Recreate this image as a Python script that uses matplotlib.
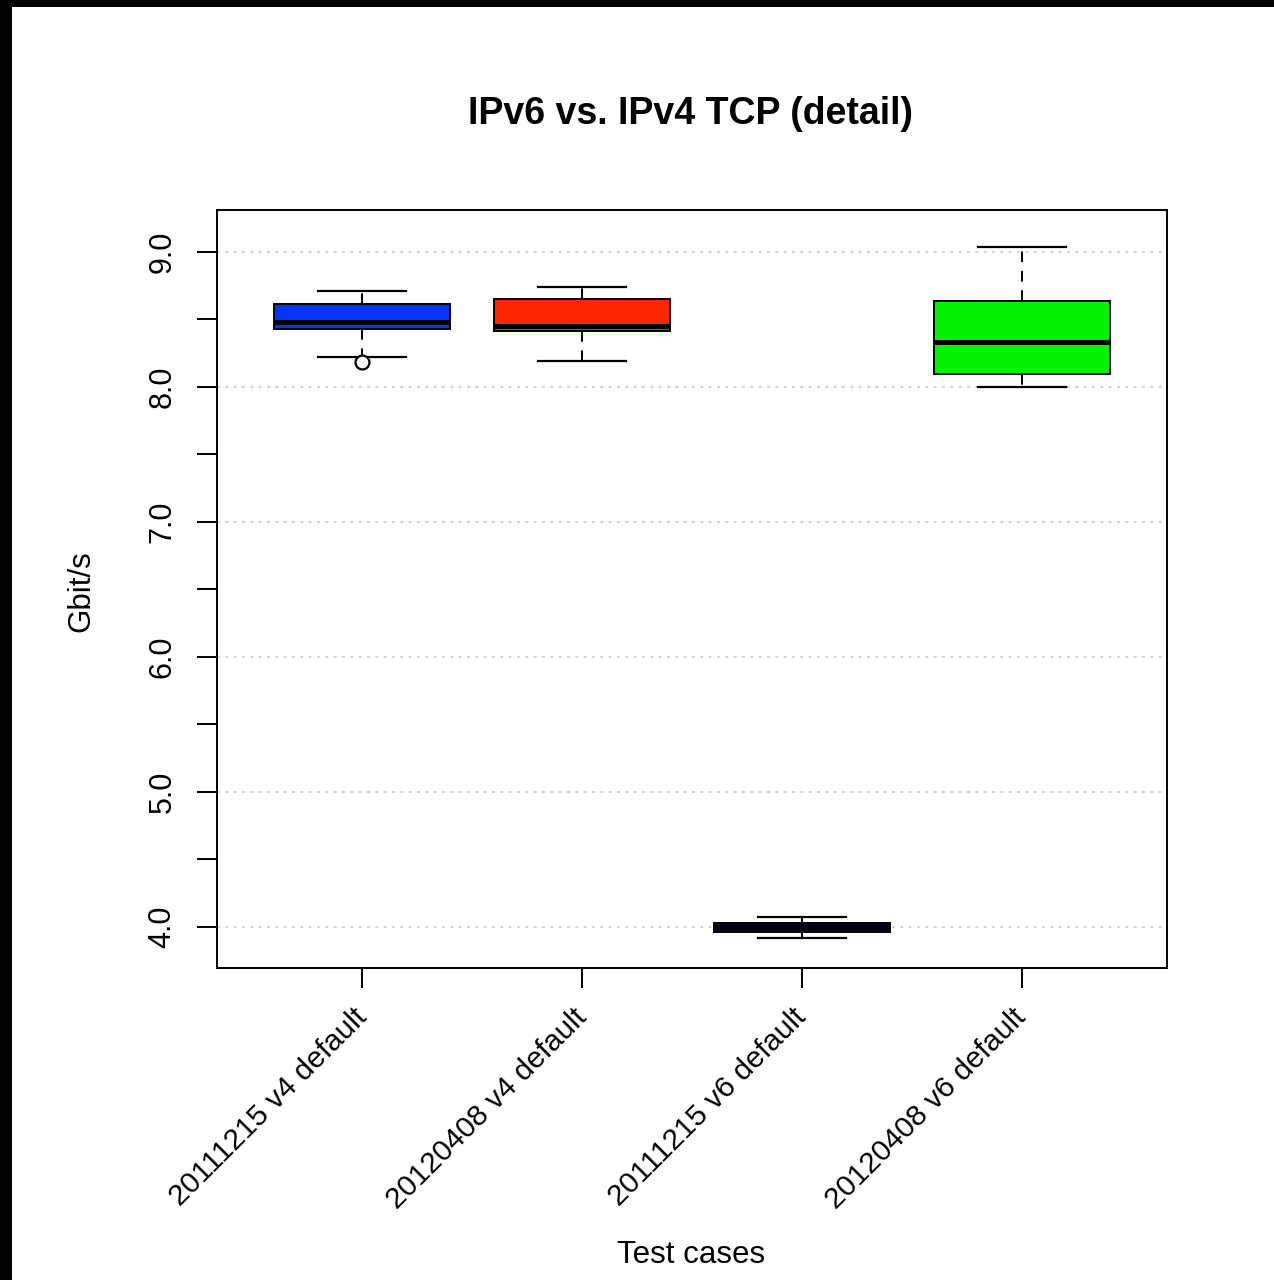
#!/usr/bin/env python3
"""IPv6 vs. IPv4 TCP throughput detail, boxplot per test case."""

import matplotlib

matplotlib.use("Agg")
import matplotlib.pyplot as plt
from matplotlib.patches import Rectangle

CASES = [
    "20111215 v4 default",
    "20120408 v4 default",
    "20111215 v6 default",
    "20120408 v6 default",
]
WHISKER_LO = [8.222, 8.195, 3.916, 8.002]
Q1 = [8.430, 8.415, 3.961, 8.096]
MEDIAN = [8.484, 8.454, 4.000, 8.331]
Q3 = [8.615, 8.650, 4.032, 8.637]
WHISKER_HI = [8.711, 8.743, 4.076, 9.039]
OUTLIERS = [[8.185], [], [], []]

Y_TICKS = [4.0, 5.0, 6.0, 7.0, 8.0, 9.0]
Y_MINOR = [4.5, 5.5, 6.5, 7.5, 8.5]

FILLS = ["#0433ff", "#ff2600", "#000040", "#00f200"]


def main() -> None:
    plt.rcParams["font.family"] = ["Liberation Sans", "DejaVu Sans"]
    fig = plt.figure(figsize=(12.74, 12.8), dpi=100)
    ax = fig.add_axes((217 / 1274, 1 - 968 / 1280, 950 / 1274, 758 / 1280))

    stats = [
        {
            "label": case,
            "whislo": lo,
            "q1": q1,
            "med": med,
            "q3": q3,
            "whishi": hi,
            "fliers": fl,
        }
        for case, lo, q1, med, q3, hi, fl in zip(CASES, WHISKER_LO, Q1, MEDIAN, Q3, WHISKER_HI, OUTLIERS)
    ]
    parts = ax.bxp(
        stats,
        positions=range(1, len(CASES) + 1),
        widths=0.8,
        capwidths=0.4,
        patch_artist=True,
        showfliers=True,
        boxprops={"edgecolor": "black", "linewidth": 1.4},
        medianprops={"color": "black", "linewidth": 3.6, "solid_capstyle": "butt"},
        whiskerprops={"color": "black", "linewidth": 1.4, "linestyle": (0, (5.5, 4.5))},
        capprops={"color": "black", "linewidth": 1.6},
        flierprops={
            "marker": "o",
            "markerfacecolor": "white",
            "markeredgecolor": "black",
            "markersize": 10,
            "markeredgewidth": 1.6,
        },
    )
    for box, color in zip(parts["boxes"], FILLS):
        box.set_facecolor(color)
        box.set_zorder(3)
    for key in ("medians", "whiskers", "caps", "fliers"):
        for artist in parts[key]:
            artist.set_zorder(4)

    for y in Y_TICKS:
        ax.axhline(y, color="#d3d3d3", linewidth=1.5, linestyle=(0, (1.4, 2.6)), zorder=1)

    ax.set_xlim(0.34, 4.66)
    ax.set_ylim(3.696, 9.311)
    ax.set_yticks(Y_TICKS)
    ax.set_yticklabels([f"{v:.1f}" for v in Y_TICKS], rotation=90, va="center", ha="right")
    ax.set_yticks(Y_MINOR, minor=True)
    ax.tick_params(axis="y", which="both", length=14.4, width=1.4, labelsize=22, pad=14)
    ax.set_xticks(range(1, len(CASES) + 1))
    ax.set_xticklabels(CASES, rotation=45, ha="right", va="center", rotation_mode="anchor")
    ax.tick_params(axis="x", length=14.4, width=1.4, labelsize=21.5, pad=18)
    for spine in ax.spines.values():
        spine.set_linewidth(1.4)

    fig.text(690 / 1274, 1 - 124 / 1280, "IPv6 vs. IPv4 TCP (detail)",
             ha="center", va="baseline", fontsize=27, fontweight="bold")
    fig.text(81 / 1274, 1 - 591 / 1280, "Gbit/s", rotation=90,
             ha="center", va="center", fontsize=22.5)
    fig.text(691 / 1274, 1 - 1263 / 1280, "Test cases",
             ha="center", va="baseline", fontsize=22.5)

    # black scan border along the left and top edges
    fig.add_artist(Rectangle((0, 0), 12 / 1274, 1, transform=fig.transFigure,
                             facecolor="black", edgecolor="none"))
    fig.add_artist(Rectangle((0, 1 - 7 / 1280), 1, 7 / 1280, transform=fig.transFigure,
                             facecolor="black", edgecolor="none"))

    fig.savefig("out.png", dpi=100)
    plt.close(fig)


if __name__ == "__main__":
    main()
